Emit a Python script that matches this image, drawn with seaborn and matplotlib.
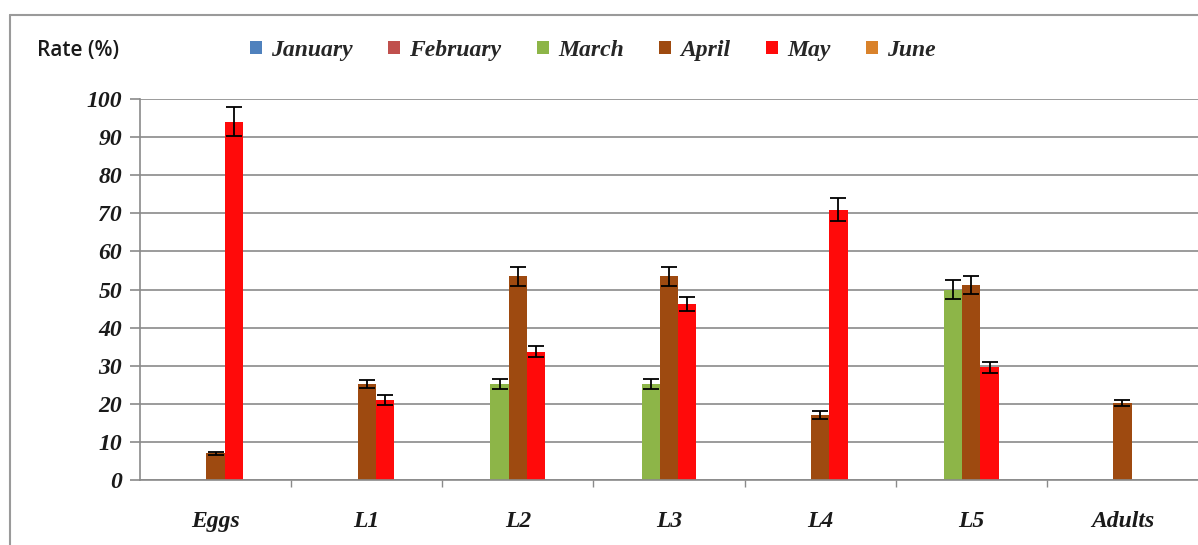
import numpy as np
import pandas as pd
import matplotlib
matplotlib.use("Agg")
import matplotlib.pyplot as plt
import seaborn as sns
from matplotlib.patches import Patch
from matplotlib.lines import Line2D

# data
stages = ["Eggs", "L1", "L2", "L3", "L4", "L5", "Adults"]
months = ["January", "February", "March", "April", "May", "June"]
march = [np.nan, np.nan, 25.2, 25.2, np.nan, 50.0, np.nan]
march_err = [0, 0, 1.2, 1.2, 0, 2.4, 0]
april = [7.0, 25.2, 53.5, 53.5, 17.0, 51.2, 20.2]
april_err = [0.4, 1.1, 2.5, 2.5, 1.0, 2.3, 0.8]
may = [94.0, 21.0, 33.7, 46.2, 71.0, 29.6, np.nan]
may_err = [3.8, 1.2, 1.5, 1.8, 3.0, 1.4, 0]

colors = {"January": "#4f81bd", "February": "#c0504d", "March": "#8db548",
          "April": "#9e4a10", "May": "#ff0a0a", "June": "#d9822b"}

rows = []
for m, vals, errs in [("March", march, march_err), ("April", april, april_err), ("May", may, may_err)]:
    for s, v, e in zip(stages, vals, errs):
        rows.append({"stage": s, "month": m, "rate": v, "err": e})
df = pd.DataFrame(rows)

sns.set_theme(style="white")
serif = ["Liberation Serif", "DejaVu Serif"]

fig = plt.figure(figsize=(11.98, 5.45), dpi=100)
ax = fig.add_axes([0.1169, 0.1193, 0.8831, 0.699])

plotted = ["March", "April", "May"]
bar_w = 0.363
sns.barplot(data=df.dropna(), x="stage", y="rate", hue="month", order=stages,
            hue_order=plotted, palette=colors, width=bar_w, errorbar=None,
            saturation=1, legend=False, ax=ax, linewidth=0)

step = bar_w / len(plotted)
for i, m in enumerate(plotted):
    sub = df[df["month"] == m].set_index("stage").loc[stages]
    xs = np.arange(len(stages)) + (i - 1) * step
    ok = sub["rate"].notna().values
    ax.errorbar(xs[ok], sub["rate"].values[ok], yerr=sub["err"].values[ok],
                fmt="none", ecolor="black", elinewidth=1.3, capsize=6,
                capthick=1.3, zorder=5)

ax.set_xlim(-0.5, len(stages) - 0.5)
ax.set_ylim(0, 100)
ax.set_yticks(range(0, 101, 10))
ax.yaxis.grid(True, color="#8a8a8a", linewidth=1.2)
ax.set_axisbelow(True)
ax.set_xlabel("")
ax.set_ylabel("")

for side in ["top", "right"]:
    ax.spines[side].set_visible(False)
for side in ["left", "bottom"]:
    ax.spines[side].set_color("#8a8a8a")
    ax.spines[side].set_linewidth(1.2)

ax.tick_params(axis="y", left=True, length=7, width=1.2, color="#8a8a8a", pad=6)
ax.tick_params(axis="x", bottom=False, pad=16)
ax.set_xticks(np.arange(0.5, len(stages) - 0.5), minor=True)
ax.tick_params(axis="x", which="minor", bottom=True, length=5, width=1.0,
               color="#8a8a8a", direction="out")

for lab in ax.get_yticklabels() + ax.get_xticklabels():
    lab.set_fontfamily(serif)
    lab.set_fontstyle("italic")
    lab.set_fontweight("bold")
    lab.set_fontsize(17)
    lab.set_color("#1a1a1a")

handles = [Patch(facecolor=colors[m], edgecolor="none") for m in months]
fig.legend(handles, months, loc="center", bbox_to_anchor=(0.495, 0.908), ncol=6,
           frameon=False, handlelength=0.5, handleheight=0.5, handletextpad=0.4,
           columnspacing=1.5, prop={"family": serif, "style": "italic",
                                    "weight": "bold", "size": 17})

fig.text(0.031, 0.907, "Rate (%)", fontfamily=["Open Sans", "DejaVu Sans"],
         fontsize=15, fontweight="semibold", va="center", ha="left",
         color="#1a1a1a")

# outer chart frame
fig.add_artist(Line2D([10 / 1198, 10 / 1198], [0, 1 - 15 / 545], color="#9a9a9a", lw=1.5))
fig.add_artist(Line2D([10 / 1198, 1], [1 - 15 / 545, 1 - 15 / 545], color="#9a9a9a", lw=1.5))

fig.savefig("out.png", dpi=100)
